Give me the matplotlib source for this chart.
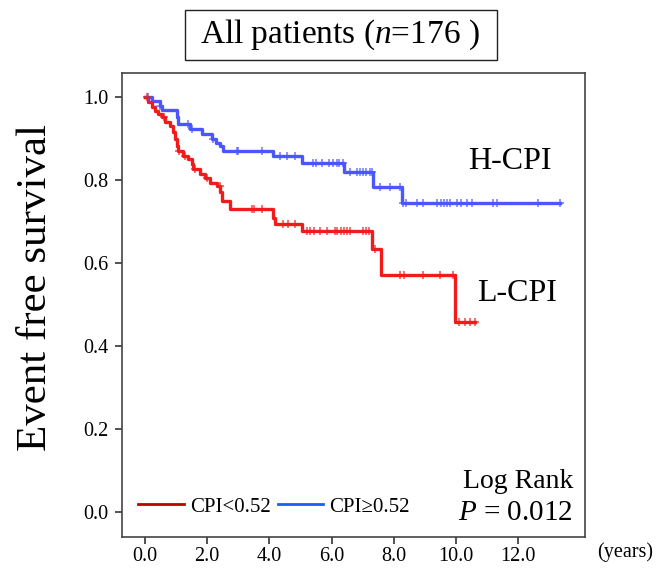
import matplotlib
matplotlib.use("Agg")
import matplotlib.pyplot as plt
from matplotlib.lines import Line2D
from matplotlib.patches import Rectangle
import numpy as np

plt.rcParams['font.family'] = ['Liberation Serif', 'DejaVu Serif']
plt.rcParams['mathtext.fontset'] = 'custom'
plt.rcParams['mathtext.rm'] = 'Liberation Serif'
plt.rcParams['mathtext.it'] = 'Liberation Serif:italic'

### H-CPI group (CPI >= 0.52): event times (years) and survival after each step
high_times = [0, 0.22, 0.48, 0.54, 1.02, 1.07, 1.45, 1.82, 2.14, 2.28, 2.41,
              2.52, 4.13, 5.04, 6.40, 7.34, 8.25]
high_surv = [1.0, 0.991, 0.979, 0.968, 0.951, 0.935, 0.923, 0.911, 0.899,
             0.889, 0.881, 0.870, 0.858, 0.841, 0.820, 0.784, 0.744]
high_end = 13.34
high_censor = [0.1, 0.48, 1.39, 1.5, 2.2, 2.95, 3.0, 3.75, 4.34, 4.55, 4.82,
               5.41, 5.5, 5.68, 5.9, 6.05, 6.16, 6.25, 6.36, 6.59, 6.8, 6.9,
               7.0, 7.1, 7.23, 7.3, 7.56, 7.88, 8.2, 8.3, 8.4, 8.74, 8.95,
               9.38, 9.5, 9.6, 9.7, 9.81, 10.02, 10.15, 10.34, 10.5, 11.2,
               11.31, 12.65, 13.34]

### L-CPI group (CPI < 0.52)
low_times = [0, 0.11, 0.22, 0.32, 0.43, 0.54, 0.64, 0.80, 0.91, 0.96, 1.02,
             1.07, 1.23, 1.39, 1.50, 1.55, 1.77, 1.93, 2.09, 2.31, 2.41, 2.47,
             2.73, 4.13, 4.18, 5.04, 7.29, 7.58, 9.97]
low_surv = [1.0, 0.987, 0.975, 0.967, 0.959, 0.951, 0.939, 0.931, 0.915,
            0.899, 0.882, 0.870, 0.858, 0.850, 0.838, 0.826, 0.814, 0.804,
            0.794, 0.786, 0.770, 0.750, 0.731, 0.709, 0.693, 0.677, 0.633,
            0.572, 0.458]
low_end = 10.61
low_censor = [0.05, 0.6, 1.1, 1.3, 1.6, 2.0, 2.4, 3.44, 3.5, 3.75, 4.45, 4.6,
              4.82, 5.2, 5.3, 5.42, 5.63, 5.85, 6.12, 6.16, 6.3, 6.4, 6.5,
              6.6, 7.02, 7.1, 7.2, 7.4, 8.2, 8.34, 8.93, 9.49, 9.91, 10.08,
              10.3, 10.45, 10.61]

xticks = [0, 2, 4, 6, 8, 10, 12]
yticks = [0.0, 0.2, 0.4, 0.6, 0.8, 1.0]

col_high = '#4a57ff'
col_low = '#f01c1c'


def survival_at(times, surv, t):
    idx = np.searchsorted(times, t, side='right') - 1
    return np.array(surv)[idx]


def draw_curve(ax, times, surv, end, censor, color):
    xs = list(times) + [end]
    ys = list(surv) + [surv[-1]]
    ax.step(xs, ys, where='post', color=color, lw=2.4, zorder=3)
    c = np.array(censor)
    ax.plot(c, survival_at(times, surv, c), '+', color=color, ms=6,
            mew=1.1, zorder=4, alpha=0.8)


fig = plt.figure(figsize=(6.56, 5.70), dpi=100)
ax = fig.add_axes([0.186, 0.058, 0.706, 0.814])

draw_curve(ax, high_times, high_surv, high_end, high_censor, col_high)
draw_curve(ax, low_times, low_surv, low_end, low_censor, col_low)

ax.set_xlim(-0.74, 14.15)
ax.set_ylim(-0.060, 1.058)
ax.set_xticks(xticks)
ax.set_xticklabels(['%.1f' % v for v in xticks], fontsize=14.5)
ax.set_yticks(yticks)
ax.set_yticklabels(['%.1f' % v for v in yticks], fontsize=14.5)
ax.tick_params(direction='out', length=5, width=1.2, color='#333333')
ax.tick_params(axis='x', pad=2)
ax.tick_params(axis='y', pad=5)
for s in ax.spines.values():
    s.set_color('#444444')
    s.set_linewidth(1.2)

ax.text(10.39, 0.844, 'H-CPI', fontsize=23, va='center', ha='left')
ax.text(10.67, 0.527, 'L-CPI', fontsize=23, va='center', ha='left')

ax.text(13.76, 0.073, 'Log Rank', fontsize=20, va='center', ha='right')
ax.text(13.76, -0.003, '$P$ = 0.012', fontsize=21, va='center', ha='right')

handles = [Line2D([], [], color='#c00000', lw=2),
           Line2D([], [], color='#1f5cff', lw=2)]
ax.legend(handles, ['CPI<0.52', 'CPI≥0.52'], ncol=2, frameon=False,
          loc='lower left', bbox_to_anchor=(0.004, 0.012), fontsize=15,
          handlelength=2.2, handletextpad=0.3, columnspacing=0.3,
          borderaxespad=0.3)

fig.text(0.055, 0.496, 'Event free survival', fontsize=31, rotation=90,
         ha='center', va='center')
fig.text(0.953, 0.032, '(years)', fontsize=14.5, ha='center', va='center')

fig.text(0.518, 0.939, 'All patients ($n$=176 )', fontsize=24,
         ha='center', va='center')
fig.patches.append(Rectangle((185 / 656, 1 - 60 / 570), 312 / 656, 50 / 570,
                             transform=fig.transFigure, fill=False,
                             ec='#222222', lw=1))

fig.savefig('out.png', dpi=100)
